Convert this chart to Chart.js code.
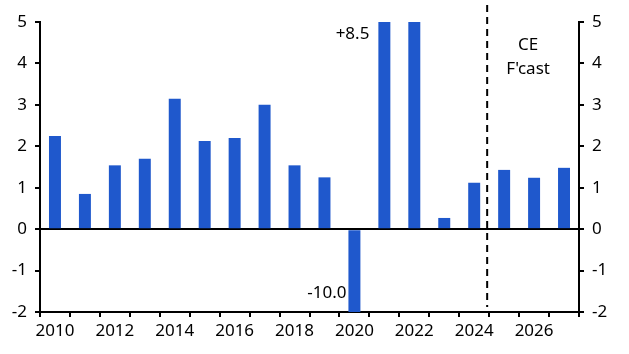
<!DOCTYPE html>
<html lang="en">
<head>
    <meta charset="UTF-8">
    <title>Chart</title>
    <script src="https://cdn.jsdelivr.net/npm/chart.js"></script>
    <style>
        html, body { margin: 0; padding: 0; background: #fff; }
        .chart-container { width: 629px; height: 354px; }
    </style>
</head>
<body>
    <div class="chart-container">
        <canvas id="chart" width="629" height="354"></canvas>
    </div>

    <script>
        const years = ['2010', '2011', '2012', '2013', '2014', '2015', '2016', '2017', '2018',
                       '2019', '2020', '2021', '2022', '2023', '2024', '2025', '2026', '2027'];
        const growth = [2.25, 0.85, 1.54, 1.70, 3.15, 2.13, 2.20, 3.00, 1.54,
                        1.25, -10.0, 8.5, 5.5, 0.27, 1.12, 1.43, 1.24, 1.48];
        const yTicks = [-2, -1, 0, 1, 2, 3, 4, 5];
        const forecastFrom = '2025';
        const FONT = '"Noto Sans", sans-serif';

        // labels for clipped bars, dashed forecast line and its caption
        const extras = {
            id: 'extras',
            afterDatasetsDraw(chart) {
                const ctx = chart.ctx;
                const x = chart.scales.x;
                const y = chart.scales.y;
                ctx.save();
                ctx.fillStyle = '#000';
                ctx.font = '17px ' + FONT;
                ctx.textBaseline = 'middle';
                ctx.textAlign = 'right';
                ctx.fillText('+8.5', x.getPixelForValue(years.indexOf('2021')) - 15, y.getPixelForValue(4.7));
                ctx.fillText('-10.0', x.getPixelForValue(years.indexOf('2020')) - 8, y.getPixelForValue(-1.55));

                const fi = years.indexOf(forecastFrom);
                const lx = (x.getPixelForValue(fi - 1) + x.getPixelForValue(fi)) / 2 - 2;
                ctx.strokeStyle = '#000';
                ctx.lineWidth = 2;
                ctx.setLineDash([7, 5]);
                ctx.beginPath();
                ctx.moveTo(lx, 5);
                ctx.lineTo(lx, y.getPixelForValue(-1.88));
                ctx.stroke();

                ctx.textAlign = 'center';
                const cx = (x.getPixelForValue(fi) + x.getPixelForValue(fi + 1)) / 2 + 9;
                ctx.fillText('CE', cx, y.getPixelForValue(4.45));
                ctx.fillText("F'cast", cx, y.getPixelForValue(3.85));
                ctx.restore();
            }
        };

        const yAxis = (pos, width, onArea) => ({
            position: pos,
            min: -2,
            max: 5,
            afterFit(s) { s.width = width; },
            afterBuildTicks(s) { s.ticks = yTicks.map(v => ({ value: v })); },
            border: { display: true, color: '#000', width: 2 },
            grid: {
                drawOnChartArea: onArea,
                color: c => c.tick && c.tick.value === 0 ? '#000' : 'rgba(0,0,0,0)',
                lineWidth: 2,
                tickColor: '#000',
                tickLength: 5
            },
            ticks: { color: '#000', font: { family: FONT, size: 17 }, padding: 8 }
        });

        new Chart(document.getElementById('chart'), {
            type: 'bar',
            data: {
                labels: years,
                datasets: [{
                    data: growth,
                    backgroundColor: '#1f58cc',
                    categoryPercentage: 1,
                    barPercentage: 0.4
                }]
            },
            options: {
                responsive: false,
                animation: false,
                layout: { padding: { top: 22 } },
                plugins: { legend: { display: false }, tooltip: { enabled: false } },
                scales: {
                    x: {
                        offset: true,
                        afterFit(s) { s.height = 42; },
                        border: { display: true, color: '#000', width: 2 },
                        grid: { offset: true, drawOnChartArea: false, tickColor: '#000', tickLength: 5, lineWidth: 2 },
                        ticks: {
                            autoSkip: false,
                            maxRotation: 0,
                            color: '#000',
                            font: { family: FONT, size: 17 },
                            padding: 4,
                            callback: (v, i) => (i % 2 === 0 ? years[i] : '')
                        }
                    },
                    y: yAxis('left', 40, true),
                    y2: yAxis('right', 50, false)
                }
            },
            plugins: [extras]
        });
    </script>
</body>
</html>
